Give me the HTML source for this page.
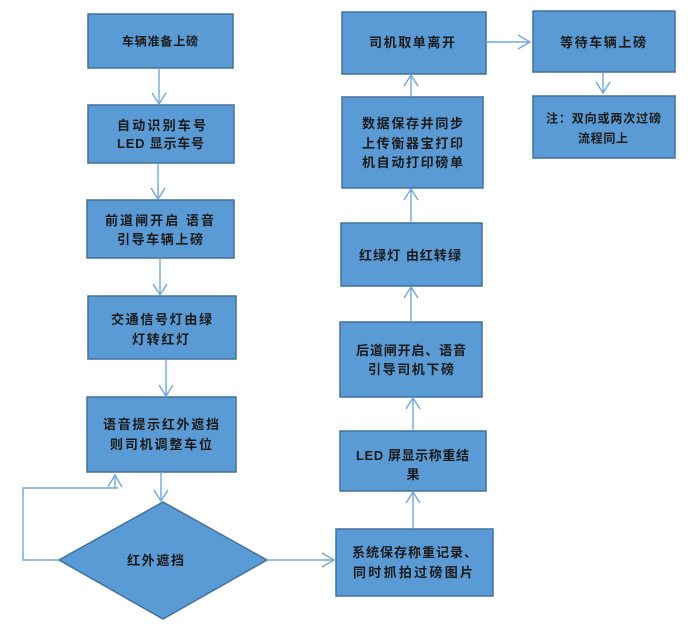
<!DOCTYPE html>
<html><head><meta charset="utf-8"><style>
html,body{margin:0;padding:0;background:#fff;}
svg{display:block;}
text{font-family:"Liberation Sans","Noto Sans CJK SC",sans-serif;font-weight:bold;fill:#1a1a1a;font-size:13px;}
</style></head><body>
<svg width="700" height="640" viewBox="0 0 700 640" xmlns="http://www.w3.org/2000/svg">
<g fill="#5B9BD5" stroke="#41719C" stroke-width="1.5">
<rect x="88" y="14" width="145" height="54"/>
<rect x="88" y="105" width="146" height="58"/>
<rect x="87" y="200" width="147" height="58"/>
<rect x="88" y="296" width="148" height="63"/>
<rect x="87" y="397" width="149" height="75"/>
<polygon points="163,502 267,560 163,619 59,560"/>
<rect x="336" y="529" width="157" height="67"/>
<rect x="340" y="431" width="146" height="60"/>
<rect x="340" y="322" width="142" height="75"/>
<rect x="341" y="223" width="141" height="63"/>
<rect x="342" y="97" width="141" height="91"/>
<rect x="342" y="12" width="144" height="62"/>
<rect x="533" y="11" width="142" height="61"/>
<rect x="533" y="96" width="142" height="62"/>
</g>
<g fill="none" stroke="#6FA8DC" stroke-width="1.4">
<line x1="159" y1="68" x2="159" y2="104"/><polyline points="152,93 159,104 166,93"/>
<line x1="158" y1="163" x2="158" y2="199"/><polyline points="151,188 158,199 165,188"/>
<line x1="160" y1="258" x2="160" y2="295"/><polyline points="153,284 160,295 167,284"/>
<line x1="166" y1="359" x2="166" y2="396"/><polyline points="159,385 166,396 173,385"/>
<line x1="161" y1="472" x2="161" y2="501"/><polyline points="154,490 161,501 168,490"/>
<polyline points="59,560 23,560 23,488 118,488"/><line x1="115" y1="488" x2="115" y2="475"/><polyline points="108,487 115,475 122,487"/>
<line x1="267" y1="560" x2="334" y2="560"/><polyline points="322,553 334,560 322,567"/>
<line x1="413" y1="529" x2="413" y2="492"/><polyline points="406,503 413,492 420,503"/>
<line x1="413" y1="431" x2="413" y2="398"/><polyline points="406,409 413,398 420,409"/>
<line x1="411" y1="322" x2="411" y2="287"/><polyline points="404,298 411,287 418,298"/>
<line x1="411" y1="223" x2="411" y2="189"/><polyline points="404,200 411,189 418,200"/>
<line x1="411" y1="97" x2="411" y2="75"/><polyline points="404,86 411,75 418,86"/>
<line x1="487" y1="42" x2="530" y2="42"/><polyline points="518,35 530,42 518,49"/>
<line x1="603" y1="72" x2="603" y2="93"/><polyline points="596,82 603,93 610,82"/>
</g>
<text x="122" y="45.5" font-size="12" style="font-size:12px" textLength="76" lengthAdjust="spacing">车辆准备上磅</text>
<text x="117" y="130" textLength="89" lengthAdjust="spacing">自动识别车号</text>
<text x="117" y="148" textLength="87" lengthAdjust="spacing">LED 显示车号</text>
<text x="105" y="225" textLength="109" lengthAdjust="spacing">前道闸开启  语音</text>
<text x="117" y="244" textLength="86" lengthAdjust="spacing">引导车辆上磅</text>
<text x="111" y="324" textLength="101" lengthAdjust="spacing">交通信号灯由绿</text>
<text x="132" y="344" textLength="57" lengthAdjust="spacing">灯转红灯</text>
<text x="103" y="429" textLength="116" lengthAdjust="spacing">语音提示红外遮挡</text>
<text x="110" y="449" textLength="102" lengthAdjust="spacing">则司机调整车位</text>
<text x="127" y="565" textLength="57" lengthAdjust="spacing">红外遮挡</text>
<text x="352" y="557" textLength="125" lengthAdjust="spacing">系统保存称重记录、</text>
<text x="353" y="577" textLength="120" lengthAdjust="spacing">同时抓拍过磅图片</text>
<text x="356" y="460" textLength="113" lengthAdjust="spacing">LED 屏显示称重结</text>
<text x="413" y="479" text-anchor="middle">果</text>
<text x="356" y="355" textLength="110" lengthAdjust="spacing">后道闸开启、语音</text>
<text x="368" y="374" textLength="86" lengthAdjust="spacing">引导司机下磅</text>
<text x="359" y="260" textLength="102" lengthAdjust="spacing">红绿灯 由红转绿</text>
<text x="362" y="128" textLength="101" lengthAdjust="spacing">数据保存并同步</text>
<text x="362" y="148" textLength="101" lengthAdjust="spacing">上传衡器宝打印</text>
<text x="362" y="167" textLength="101" lengthAdjust="spacing">机自动打印磅单</text>
<text x="369" y="47" textLength="86" lengthAdjust="spacing">司机取单离开</text>
<text x="560" y="47" textLength="86" lengthAdjust="spacing">等待车辆上磅</text>
<text x="546" y="122.5" style="font-size:12px" textLength="115" lengthAdjust="spacing">注：双向或两次过磅</text>
<text x="578" y="142.5" style="font-size:12px" textLength="50" lengthAdjust="spacing">流程同上</text>
</svg>
</body></html>
